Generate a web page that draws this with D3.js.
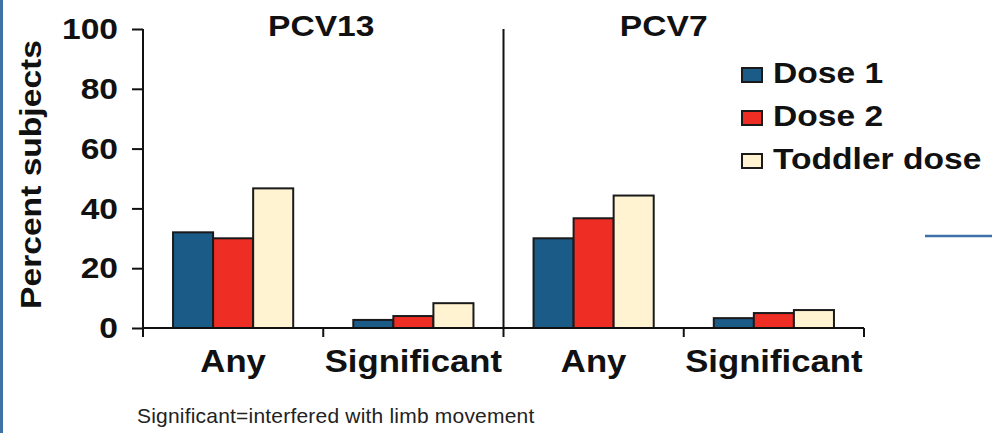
<!DOCTYPE html>
<html>
<head>
<meta charset="utf-8">
<script src="https://cdn.jsdelivr.net/npm/d3@7"></script>
<style>
  body { margin: 0; background: #fff; }
  svg { display: block; font-family: "Liberation Sans", Arial, sans-serif; }
</style>
</head>
<body>
<div id="chart"></div>
<script>
// data
const panels = ['PCV13', 'PCV7'];
const categories = ['Any', 'Significant'];
const series = ['Dose 1', 'Dose 2', 'Toddler dose'];
const dose1 = [32, 2.7, 30, 3.3];     // PCV13 Any, PCV13 Sig, PCV7 Any, PCV7 Sig
const dose2 = [30, 4, 36.7, 5];
const toddler = [46.7, 8.3, 44.3, 6];
const yTicks = [0, 20, 40, 60, 80, 100];
const colors = ['#1b5b88', '#ee2d24', '#fff3d1'];

const W = 992, H = 433;
const margin = {left: 143, right: 128, top: 29, bottom: 105};

const groups = [];
panels.forEach(p => categories.forEach(c => groups.push(p + '|' + c)));
const values = [dose1, dose2, toddler];

const svg = d3.select('#chart').append('svg')
  .attr('width', W).attr('height', H);

const x = d3.scaleBand().domain(groups)
  .range([margin.left, W - margin.right]);
const xs = d3.scaleBand().domain(series)
  .range([0, x.bandwidth()]).paddingInner(0).paddingOuter(0.75);
const y = d3.scaleLinear().domain([0, 100])
  .range([H - margin.bottom, margin.top]);

const stretch = 1.12;
const bold = sel => sel.attr('font-weight', 'bold').attr('fill', '#111');

// bars
const barG = svg.append('g');
groups.forEach((g, i) => {
  series.forEach((s, j) => {
    barG.append('rect')
      .attr('x', x(g) + xs(s))
      .attr('y', y(values[j][i]))
      .attr('width', xs.bandwidth())
      .attr('height', y(0) - y(values[j][i]))
      .attr('fill', colors[j])
      .attr('stroke', '#1a1a1a')
      .attr('stroke-width', 2);
  });
});

// y axis
const yAxis = svg.append('g')
  .attr('transform', `translate(${margin.left},0)`)
  .call(d3.axisLeft(y).tickValues(yTicks).tickSize(11).tickPadding(14));
yAxis.select('.domain').remove();
yAxis.append('line')
  .attr('x1', 0).attr('x2', 0)
  .attr('y1', y(100)).attr('y2', y(0) + 9)
  .attr('stroke', '#111').attr('stroke-width', 2);
yAxis.selectAll('.tick line').attr('stroke', '#111').attr('stroke-width', 2);
yAxis.selectAll('.tick text')
  .attr('font-size', 30).attr('font-family', '"Liberation Sans", Arial, sans-serif')
  .call(bold)
  .attr('transform', function() {
    const tx = -25;
    return `translate(${tx},0) scale(${stretch},1) translate(${-tx},0)`;
  });

// x axis baseline and ticks at group boundaries
svg.append('line')
  .attr('x1', margin.left).attr('x2', W - margin.right)
  .attr('y1', y(0)).attr('y2', y(0))
  .attr('stroke', '#111').attr('stroke-width', 2);
const bounds = groups.map(g => x(g)).concat([W - margin.right]);
svg.selectAll('line.xtick').data(bounds).enter().append('line')
  .attr('class', 'xtick')
  .attr('x1', d => d).attr('x2', d => d)
  .attr('y1', y(0)).attr('y2', y(0) + 9)
  .attr('stroke', '#111').attr('stroke-width', 2);

// panel divider
const mid = x(groups[2]);
svg.append('line')
  .attr('x1', mid).attr('x2', mid)
  .attr('y1', y(100)).attr('y2', y(0))
  .attr('stroke', '#111').attr('stroke-width', 2);

// category labels
svg.selectAll('text.cat').data(groups).enter().append('text')
  .attr('class', 'cat')
  .attr('text-anchor', 'middle')
  .attr('font-size', 31)
  .call(bold)
  .attr('transform', d => {
    const cx = x(d) + x.bandwidth() / 2;
    return `translate(${cx},${y(0) + 44}) scale(${stretch},1)`;
  })
  .text(d => d.split('|')[1]);

// panel titles
svg.selectAll('text.panel').data(panels).enter().append('text')
  .attr('class', 'panel')
  .attr('text-anchor', 'middle')
  .attr('font-size', 30)
  .call(bold)
  .attr('transform', (d, i) => {
    const cx = i === 0 ? (margin.left + mid) / 2 - 2 : (mid + W - margin.right) / 2 - 20;
    return `translate(${cx},36) scale(${stretch},1)`;
  })
  .text(d => d);

// y title
svg.append('text')
  .attr('text-anchor', 'middle')
  .attr('font-size', 30)
  .call(bold)
  .attr('transform', `translate(41,${(y(0) + y(100)) / 2 - 4}) rotate(-90) scale(${stretch},1)`)
  .text('Percent subjects');

// legend
const leg = svg.append('g').attr('transform', 'translate(742,83)');
series.forEach((s, j) => {
  const row = leg.append('g').attr('transform', `translate(0,${j * 43})`);
  row.append('rect')
    .attr('x', 0).attr('y', -15).attr('width', 20).attr('height', 14)
    .attr('fill', colors[j]).attr('stroke', '#1a1a1a').attr('stroke-width', 2);
  row.append('text')
    .attr('font-size', 30)
    .call(bold)
    .attr('transform', `translate(31,0) scale(${stretch},1)`)
    .text(s);
});

// footnote
svg.append('text')
  .attr('x', 137).attr('y', 423)
  .attr('font-size', 21)
  .attr('fill', '#222')
  .attr('letter-spacing', 0.2)
  .text('Significant=interfered with limb movement');

// slide decorations
svg.append('rect').attr('x', 0).attr('y', 0).attr('width', 3).attr('height', H)
  .attr('fill', '#3d72a6');
svg.append('line')
  .attr('x1', 925).attr('x2', W).attr('y1', 236).attr('y2', 236)
  .attr('stroke', '#3d72a6').attr('stroke-width', 2.5);
</script>
</body>
</html>
